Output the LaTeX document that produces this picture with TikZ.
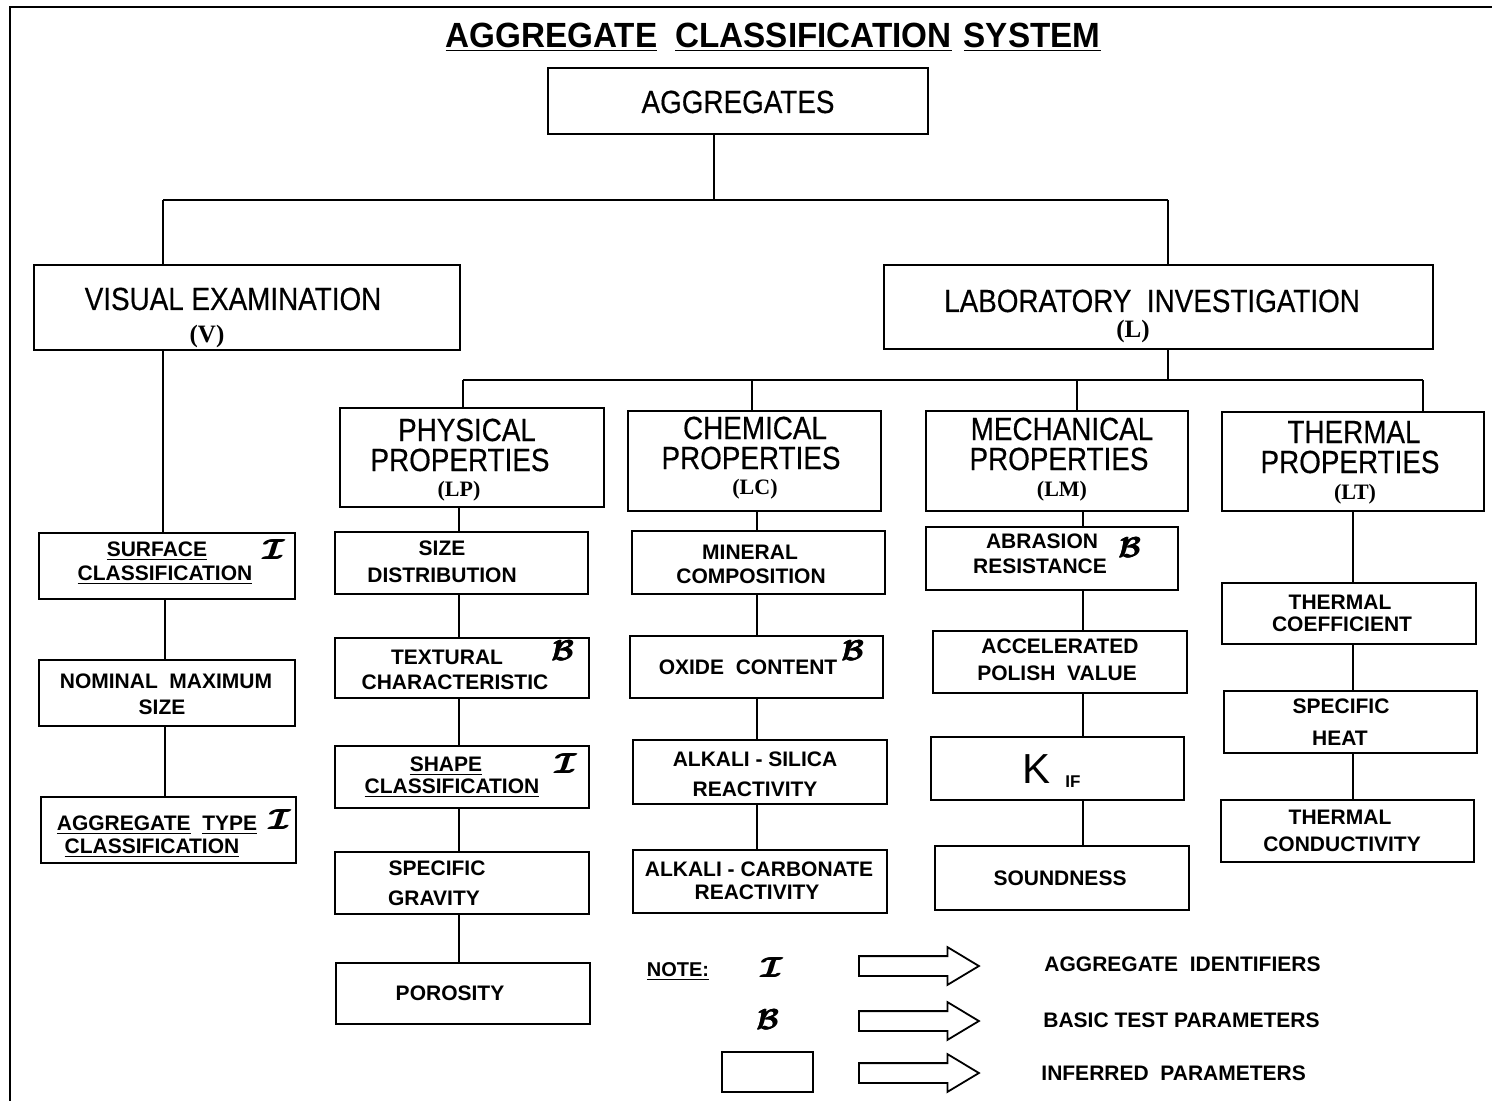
\documentclass[tikz,border=0pt]{standalone}
\usepackage{fontspec}
\setmainfont{Liberation Sans}
\newfontfamily\headfont{Liberation Sans}[FakeStretch=0.87, FakeBold=0.4]
\newfontfamily\titlefont{Liberation Sans Bold}[FakeStretch=0.95]
\newfontfamily\parenfont{Liberation Serif Bold}
\usetikzlibrary{shapes.arrows}

% rectangle node given by its corners (in picture units)
\newcommand\mkbox[5]{%
  \node[bx, minimum width={(#4-#2)*0.5pt}, minimum height={(#5-#3)*0.5pt}]
    (#1) at ({(#2+#4)/2},{(#3+#5)/2}) {};}

% heavy script letter: the bold calligraphic glyph set three times, slightly offset
\newcommand\heavyglyph[1]{\hbox{\rlap{#1}\kern0.35pt\rlap{#1}\kern0.35pt#1}}
\newcommand\idsym{\heavyglyph{\boldmath$\mathcal{I}$}}
\newcommand\bsym{\heavyglyph{\boldmath$\mathcal{B}$}}

\tikzset{
  bx/.style={draw, line width=1pt, inner sep=0pt},
  ln/.style={line width=1pt},
  sl/.style={inner sep=0pt, font=\fontsize{10.5}{12}\selectfont\bfseries, text height=7.5pt, text depth=0pt},
  hl/.style={inner sep=0pt, font=\headfont\fontsize{16}{18}\selectfont, text height=11pt, text depth=0pt},
  pl/.style={inner sep=0pt, font=\parenfont\fontsize{11}{12}\selectfont, text height=7.3pt, text depth=0pt},
  sym/.style={inner sep=0pt, font=\fontsize{14}{14}\selectfont},
  blk/.style={single arrow, draw, line width=0.9pt, anchor=tail, minimum height=60pt,
    inner xsep=0pt, inner ysep=4.5pt, single arrow head extend=4.5pt, single arrow tip angle=62},
}

\begin{document}
\begin{tikzpicture}[x=0.5pt,y=-0.5pt]
\useasboundingbox (0,0) rectangle (1492,1101);

% frame
\draw[ln] (10,1101) -- (10,7) -- (1492,7);

% title
\node[inner sep=0pt, font=\titlefont\fontsize{17.5}{20}\selectfont, text height=12.5pt, text depth=0pt]
  (title) at (773,35) {\underline{AGGREGATE}\hspace{9pt}\underline{CLASSIFICATION}\hspace{6pt}\underline{SYSTEM}};

% boxes
\mkbox{agg}{548}{68}{928}{134}
\mkbox{ve}{34}{265}{460}{350}
\mkbox{li}{884}{265}{1433}{349}
\mkbox{phys}{340}{408}{604}{507}
\mkbox{chem}{628}{411}{881}{511}
\mkbox{mech}{926}{411}{1188}{511}
\mkbox{therm}{1222}{412}{1484}{511}
\mkbox{surf}{39}{533}{295}{599}
\mkbox{nom}{39}{660}{295}{726}
\mkbox{atype}{41}{797}{296}{863}
\mkbox{size}{335}{532}{588}{594}
\mkbox{textu}{335}{638}{589}{698}
\mkbox{shape}{335}{746}{589}{808}
\mkbox{grav}{335}{852}{589}{914}
\mkbox{poro}{336}{963}{590}{1024}
\mkbox{mineral}{632}{531}{885}{594}
\mkbox{oxide}{630}{636}{883}{698}
\mkbox{asr}{633}{740}{887}{804}
\mkbox{acr}{633}{850}{887}{913}
\mkbox{abr}{926}{527}{1178}{590}
\mkbox{apv}{933}{631}{1187}{693}
\mkbox{kif}{931}{737}{1184}{800}
\mkbox{sound}{935}{846}{1189}{910}
\mkbox{tcoef}{1222}{583}{1476}{644}
\mkbox{sheat}{1224}{691}{1477}{753}
\mkbox{tcond}{1221}{800}{1474}{862}
\mkbox{inf}{722}{1052}{813}{1092}

% headings
\node[hl] (agg-t) at (738,102) {AGGREGATES};
\node[hl] (ve-t) at (233,299) {VISUAL EXAMINATION};
\node[pl, font=\parenfont\fontsize{12.5}{13}\selectfont, text height=8.3pt] (ve-p) at (207,334) {(V)};
\node[hl] (li-t) at (1152,301) {LABORATORY\ \ INVESTIGATION};
\node[pl, font=\parenfont\fontsize{12.5}{13}\selectfont, text height=8.3pt] (li-p) at (1133,329) {(L)};

\node[hl] (phys-t1) at (467,430) {PHYSICAL};
\node[hl] (phys-t2) at (460,460) {PROPERTIES};
\node[pl] (phys-p) at (459,489) {(LP)};
\node[hl] (chem-t1) at (755,428) {CHEMICAL};
\node[hl] (chem-t2) at (751,458) {PROPERTIES};
\node[pl] (chem-p) at (755,487) {(LC)};
\node[hl] (mech-t1) at (1062,429) {MECHANICAL};
\node[hl] (mech-t2) at (1059,459) {PROPERTIES};
\node[pl] (mech-p) at (1062,489) {(LM)};
\node[hl] (therm-t1) at (1354,432) {THERMAL};
\node[hl] (therm-t2) at (1350,462) {PROPERTIES};
\node[pl] (therm-p) at (1355,492) {(LT)};

% visual examination column
\node[sl] (surf-t1) at (157,549) {\underline{SURFACE}};
\node[sl] (surf-t2) at (165,573) {\underline{CLASSIFICATION}};
\node[sym] (surf-s) at (274,550) {\idsym};
\node[sl] (nom-t1) at (166,681) {NOMINAL\ \ MAXIMUM};
\node[sl] (nom-t2) at (162,707) {SIZE};
\node[sl] (atype-t1) at (157,823) {\underline{AGGREGATE}\ \ \underline{TYPE}};
\node[sl] (atype-t2) at (152,846) {\underline{CLASSIFICATION}};
\node[sym] (atype-s) at (280,820) {\idsym};

% physical column
\node[sl] (size-t1) at (442,548) {SIZE};
\node[sl] (size-t2) at (442,575) {DISTRIBUTION};
\node[sl] (textu-t1) at (447,657) {TEXTURAL};
\node[sl] (textu-t2) at (455,682) {CHARACTERISTIC};
\node[sym] (textu-s) at (563,651) {\bsym};
\node[sl] (shape-t1) at (446,764) {\underline{SHAPE}};
\node[sl] (shape-t2) at (452,786) {\underline{CLASSIFICATION}};
\node[sym] (shape-s) at (566,764) {\idsym};
\node[sl] (grav-t1) at (437,868) {SPECIFIC};
\node[sl] (grav-t2) at (434,898) {GRAVITY};
\node[sl] (poro-t) at (450,993) {POROSITY};

% chemical column
\node[sl] (mineral-t1) at (750,552) {MINERAL};
\node[sl] (mineral-t2) at (751,576) {COMPOSITION};
\node[sl] (oxide-t) at (748,667) {OXIDE\ \ CONTENT};
\node[sym] (oxide-s) at (853,651) {\bsym};
\node[sl] (asr-t1) at (755,759) {ALKALI - SILICA};
\node[sl] (asr-t2) at (755,789) {REACTIVITY};
\node[sl] (acr-t1) at (759,869) {ALKALI - CARBONATE};
\node[sl] (acr-t2) at (757,892) {REACTIVITY};

% mechanical column
\node[sl] (abr-t1) at (1042,541) {ABRASION};
\node[sl] (abr-t2) at (1040,566) {RESISTANCE};
\node[sym] (abr-s) at (1130,548) {\bsym};
\node[sl] (apv-t1) at (1060,646) {ACCELERATED};
\node[sl] (apv-t2) at (1057,673) {POLISH\ \ VALUE};
\node[inner sep=0pt, font=\fontsize{21}{22}\selectfont, text height=15pt, text depth=0pt] (kif-k) at (1036,768) {K};
\node[inner sep=0pt, font=\fontsize{8.5}{9}\selectfont\bfseries, text height=6.1pt, text depth=0pt] (kif-i) at (1073,781) {IF};
\node[sl] (sound-t) at (1060,878) {SOUNDNESS};

% thermal column
\node[sl] (tcoef-t1) at (1340,602) {THERMAL};
\node[sl] (tcoef-t2) at (1342,624) {COEFFICIENT};
\node[sl] (sheat-t1) at (1341,706) {SPECIFIC};
\node[sl] (sheat-t2) at (1340,738) {HEAT};
\node[sl] (tcond-t1) at (1340,817) {THERMAL};
\node[sl] (tcond-t2) at (1342,844) {CONDUCTIVITY};

% connectors: top level
\coordinate (xA) at (714,200);
\coordinate (xV) at (163,200);
\coordinate (xL) at (1168,200);
\draw[ln] (agg.south -| xA) -- (xA);
\draw[ln] (xV) -- (xL);
\draw[ln] (xV) -- (ve.north -| xV);
\draw[ln] (xL) -- (li.north -| xL);
\draw[ln] (ve.south -| xV) -- (surf.north -| xV);

% visual column chain
\coordinate (cV) at (165,0);
\draw[ln] (surf.south -| cV) -- (nom.north -| cV);
\draw[ln] (nom.south -| cV) -- (atype.north -| cV);

% laboratory bus
\coordinate (bL) at (1168,380);
\coordinate (bP) at (463,380);
\coordinate (bC) at (752,380);
\coordinate (bM) at (1077,380);
\coordinate (bT) at (1423,380);
\draw[ln] (li.south -| bL) -- (bL);
\draw[ln] (bP) -- (bT);
\draw[ln] (bP) -- (phys.north -| bP);
\draw[ln] (bC) -- (chem.north -| bC);
\draw[ln] (bM) -- (mech.north -| bM);
\draw[ln] (bT) -- (therm.north -| bT);

% property column chains
\coordinate (cP) at (459,0);
\coordinate (cC) at (757,0);
\coordinate (cM) at (1083,0);
\coordinate (cT) at (1353,0);
\foreach \a/\b in {phys/size,size/textu,textu/shape,shape/grav,grav/poro}
  \draw[ln] (\a.south -| cP) -- (\b.north -| cP);
\foreach \a/\b in {chem/mineral,mineral/oxide,oxide/asr,asr/acr}
  \draw[ln] (\a.south -| cC) -- (\b.north -| cC);
\foreach \a/\b in {mech/abr,abr/apv,apv/kif,kif/sound}
  \draw[ln] (\a.south -| cM) -- (\b.north -| cM);
\foreach \a/\b in {therm/tcoef,tcoef/sheat,sheat/tcond}
  \draw[ln] (\a.south -| cT) -- (\b.north -| cT);

% legend
\node[sl, font=\fontsize{10}{12}\selectfont\bfseries, text height=7.2pt] (note) at (678,969) {\underline{NOTE:}};
\node[sym] (leg-i) at (772,968) {\idsym};
\node[sym] (leg-b) at (768,1020) {\bsym};
\node[blk] (ar1) at (858,966) {};
\node[blk] (ar2) at (858,1021) {};
\node[blk] (ar3) at (858,1073) {};
\node[sl, anchor=west] (leg-t1) at (1044,964) {AGGREGATE\ \ IDENTIFIERS};
\node[sl, anchor=west] (leg-t2) at (1043,1020) {BASIC TEST PARAMETERS};
\node[sl, anchor=west] (leg-t3) at (1041,1073) {INFERRED\ \ PARAMETERS};
\end{tikzpicture}
\end{document}
